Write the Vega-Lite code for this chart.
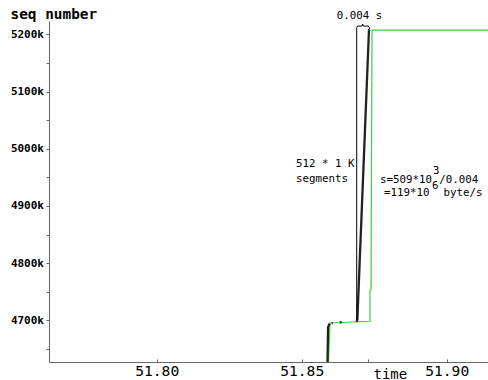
{
  "$schema": "https://vega.github.io/schema/vega-lite/v6.json",
  "width": 439,
  "height": 341,
  "autosize": {"type": "none"},
  "padding": {"left": 49, "top": 21, "right": 0, "bottom": 18},
  "background": "white",
  "config": {"view": {"stroke": null}, "font": "DejaVu Sans Mono"},
  "datasets": {
    "lines": [
      {"series": "ack", "i": 0, "t": 51.85924, "seq": 4626000},
      {"series": "ack", "i": 1, "t": 51.85976, "seq": 4695300},
      {"series": "ack", "i": 2, "t": 51.87355, "seq": 4698300},
      {"series": "ack", "i": 3, "t": 51.87355, "seq": 4752500},
      {"series": "ack", "i": 4, "t": 51.87390, "seq": 4753000},
      {"series": "ack", "i": 5, "t": 51.87424, "seq": 5207500},
      {"series": "ack", "i": 6, "t": 51.91500, "seq": 5207500},
      {"series": "d1", "i": 0, "t": 51.85890, "seq": 4626000},
      {"series": "d1", "i": 1, "t": 51.85910, "seq": 4688300},
      {"series": "d1", "i": 2, "t": 51.85966, "seq": 4694200},
      {"series": "d2", "i": 0, "t": 51.86035, "seq": 4695000},
      {"series": "d2", "i": 1, "t": 51.86069, "seq": 4695200},
      {"series": "d3", "i": 0, "t": 51.86311, "seq": 4696300},
      {"series": "d3", "i": 1, "t": 51.86380, "seq": 4696600},
      {"series": "d4", "i": 0, "t": 51.86897, "seq": 4697000},
      {"series": "d4", "i": 1, "t": 51.86920, "seq": 4702000},
      {"series": "d4", "i": 2, "t": 51.87321, "seq": 5209000},
      {"series": "bracket", "i": 0, "t": 51.86897, "seq": 4700000},
      {"series": "bracket", "i": 1, "t": 51.86897, "seq": 5212000},
      {"series": "bracket", "i": 2, "t": 51.86930, "seq": 5214500},
      {"series": "bracket", "i": 3, "t": 51.87080, "seq": 5214500},
      {"series": "bracket", "i": 4, "t": 51.87103, "seq": 5218000},
      {"series": "bracket", "i": 5, "t": 51.87126, "seq": 5214500},
      {"series": "bracket", "i": 6, "t": 51.87295, "seq": 5214500},
      {"series": "bracket", "i": 7, "t": 51.87331, "seq": 5212000},
      {"series": "bracket", "i": 8, "t": 51.87331, "seq": 5209000}
    ],
    "notes": [
      {"t": 51.86207, "seq": 5232600, "label": "0.004 s"},
      {"t": 51.84803, "seq": 4972500, "label": "512 * 1 K"},
      {"t": 51.84803, "seq": 4946200, "label": "segments"},
      {"t": 51.87700, "seq": 4945000, "label": "s=509*10"},
      {"t": 51.89528, "seq": 4960800, "label": "3"},
      {"t": 51.89745, "seq": 4945000, "label": "/0.004"},
      {"t": 51.87838, "seq": 4922800, "label": "=119*10"},
      {"t": 51.89493, "seq": 4934500, "label": "6"},
      {"t": 51.89893, "seq": 4922800, "label": "byte/s"}
    ]
  },
  "encoding": {
    "x": {
      "field": "t", "type": "quantitative",
      "scale": {"domain": [51.76286, 51.91424], "nice": false, "zero": false},
      "axis": {
        "title": "time", "titleFont": "DejaVu Sans Mono", "titleFontSize": 14, "titleFontWeight": "normal", "titleColor": "black",
        "titleAngle": 0, "titleAlign": "left", "titleBaseline": "middle", "titleX": 324, "titleY": 12,
        "values": [51.80, 51.85, 51.873, 51.90],
        "labelExpr": "abs(datum.value*20 - round(datum.value*20)) < 0.01 ? format(datum.value, '.2f') : ''",
        "labelFont": "DejaVu Sans Mono", "labelFontSize": 14.6, "labelColor": "black", "labelPadding": 4,
        "tickSize": -3, "tickColor": "#666", "domainColor": "#666", "grid": false, "labelFlush": false, "labelOverlap": false
      }
    },
    "y": {
      "field": "seq", "type": "quantitative",
      "scale": {"domain": [4627100, 5223300], "nice": false, "zero": false},
      "axis": {
        "title": "seq number", "titleFont": "DejaVu Sans Mono", "titleFontSize": 14.4, "titleFontWeight": "bold", "titleColor": "black",
        "titleAngle": 0, "titleAlign": "left", "titleBaseline": "middle", "titleX": -39, "titleY": -7,
        "values": [4650000, 4700000, 4750000, 4800000, 4850000, 4900000, 4950000, 5000000, 5050000, 5100000, 5150000, 5200000],
        "labelExpr": "datum.value % 100000 == 0 ? format(datum.value/1000, 'd') + 'k' : ''",
        "labelFont": "DejaVu Sans Mono", "labelFontSize": 11, "labelFontWeight": "bold", "labelColor": "black", "labelPadding": 2.5,
        "tickSize": 3, "tickColor": "#666", "domainColor": "#666", "grid": false, "labelFlush": false, "labelOverlap": false
      }
    }
  },
  "layer": [
    {
      "data": {"name": "lines"},
      "transform": [{"filter": "datum.series == 'ack'"}],
      "mark": {"type": "line", "color": "#3fd03f", "strokeWidth": 1.2, "clip": true},
      "encoding": {"order": {"field": "i"}}
    },
    {
      "data": {"name": "lines"},
      "transform": [{"filter": "datum.series == 'd1' || datum.series == 'd2' || datum.series == 'd3' || datum.series == 'd4'"}],
      "mark": {"type": "line", "color": "#222222", "strokeWidth": 2.3, "clip": true},
      "encoding": {"detail": {"field": "series"}, "order": {"field": "i"}}
    },
    {
      "data": {"name": "lines"},
      "transform": [{"filter": "datum.series == 'bracket'"}],
      "mark": {"type": "line", "color": "black", "strokeWidth": 1, "clip": true},
      "encoding": {"order": {"field": "i"}}
    },
    {
      "data": {"name": "notes"},
      "mark": {"type": "text", "align": "left", "baseline": "middle", "font": "DejaVu Sans Mono", "fontSize": 10.8, "color": "black"},
      "encoding": {"text": {"field": "label"}}
    }
  ]
}
